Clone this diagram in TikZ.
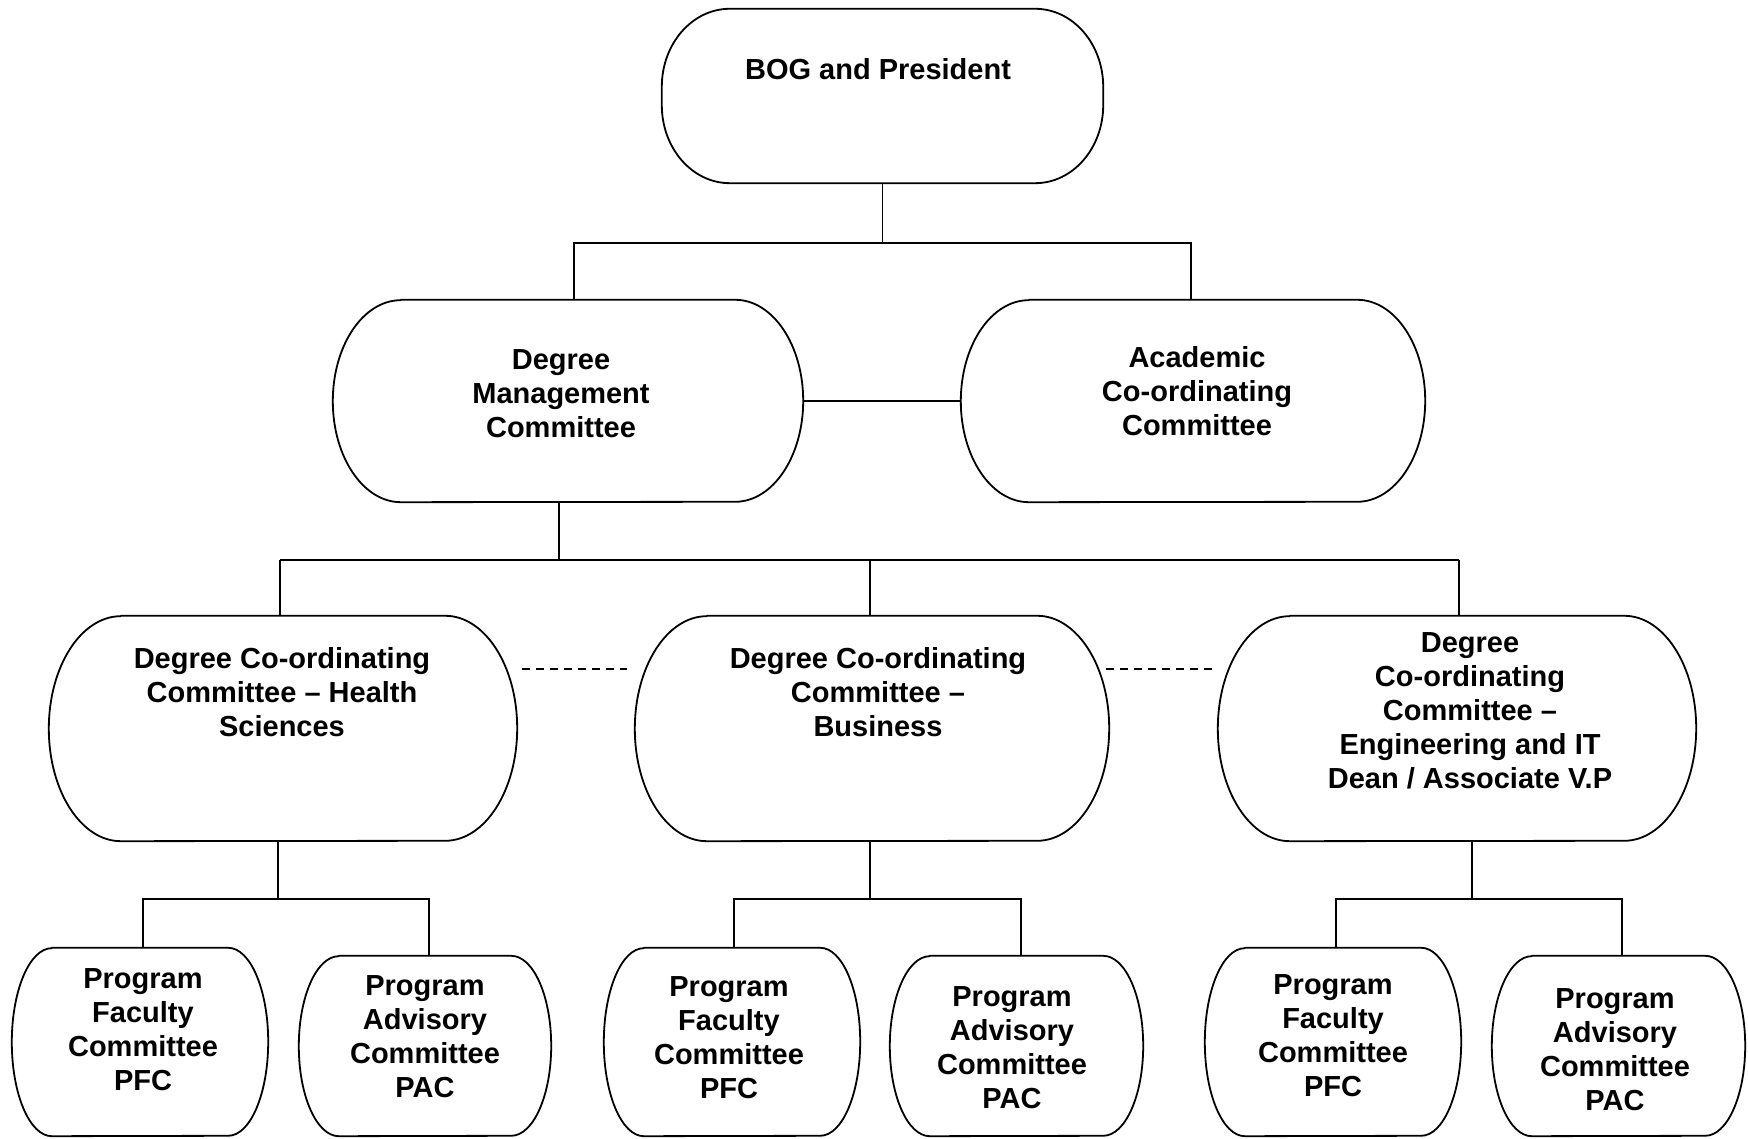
\documentclass[tikz,border=0pt]{standalone}
\usepackage{fontspec}
\setmainfont{Liberation Sans}
\tikzset{
  frame/.style={rectangle, draw=none, inner sep=0pt},
  lbl/.style={font=\bfseries\fontsize{29}{34}\selectfont, align=center, inner sep=0pt},
  conn/.style={line width=1.6pt},
  thickconn/.style={line width=2.4pt},
  outline/.style={line width=1.8pt, line join=round},
  dashline/.style={line width=1.6pt, dash pattern=on 8pt off 6pt},
}
\newcommand\barrelshape[3]{%
  \draw[outline] ([xshift=#2]#1.north west) -- ([xshift=-#2]#1.north east)
    arc[start angle=90, end angle=-90, x radius=#2, y radius=#3]
    -- ([xshift=#2]#1.south west)
    arc[start angle=270, end angle=90, x radius=#2, y radius=#3] -- cycle;}
\begin{document}
\begin{tikzpicture}[x=1pt,y=1pt]
\useasboundingbox[fill=white] (0,0) rectangle (1748,1139);

% frames
\node[frame, minimum width=441pt, minimum height=174pt] (bog) at (882.5,1043) {};
\node[frame, minimum width=470pt, minimum height=202pt] (dmc) at (568,738) {};
\node[frame, minimum width=464pt, minimum height=202pt] (acc) at (1193,738) {};
\node[frame, minimum width=468pt, minimum height=225pt] (hs) at (283,410.5) {};
\node[frame, minimum width=474pt, minimum height=225pt] (bus) at (872,410.5) {};
\node[frame, minimum width=478pt, minimum height=225pt] (eit) at (1457,410.5) {};
\node[frame, minimum width=256pt, minimum height=188pt] (pfc1) at (140,97) {};
\node[frame, minimum width=252pt, minimum height=180pt] (pac1) at (425,93) {};
\node[frame, minimum width=256pt, minimum height=188pt] (pfc2) at (732,97) {};
\node[frame, minimum width=253pt, minimum height=180pt] (pac2) at (1016.5,93) {};
\node[frame, minimum width=256pt, minimum height=188pt] (pfc3) at (1333,97) {};
\node[frame, minimum width=253pt, minimum height=180pt] (pac3) at (1618.5,93) {};

% BOG rounded rectangle
\draw[outline] ([xshift=68pt]bog.north west) -- ([xshift=-68pt]bog.north east)
  arc[start angle=90,end angle=0,x radius=68pt,y radius=78pt]
  -- ([yshift=78pt]bog.south east)
  arc[start angle=0,end angle=-90,x radius=68pt,y radius=78pt]
  -- ([xshift=68pt]bog.south west)
  arc[start angle=270,end angle=180,x radius=68pt,y radius=78pt]
  -- ([yshift=-78pt]bog.north west)
  arc[start angle=180,end angle=90,x radius=68pt,y radius=78pt] -- cycle;

\barrelshape{dmc}{68pt}{101pt}
\barrelshape{acc}{68pt}{101pt}
\barrelshape{hs}{72pt}{112.5pt}
\barrelshape{bus}{72pt}{112.5pt}
\barrelshape{eit}{72pt}{112.5pt}
\barrelshape{pfc1}{40pt}{94pt}
\barrelshape{pac1}{40pt}{90pt}
\barrelshape{pfc2}{40pt}{94pt}
\barrelshape{pac2}{40pt}{90pt}
\barrelshape{pfc3}{40pt}{94pt}
\barrelshape{pac3}{40pt}{90pt}

% labels
\node[lbl] (bogt) at (878,1070) {BOG and President};
\node[lbl] (dmct) at (561,745) {Degree\\Management\\Committee};
\node[lbl] (acct) at (1197,748) {Academic\\Co-ordinating\\Committee};
\node[lbl] (hst) at (282,447) {Degree Co-ordinating\\Committee – Health\\Sciences};
\node[lbl] (bust) at (878,447) {Degree Co-ordinating\\Committee –\\Business};
\node[lbl] (eitt) at (1470,428) {Degree\\Co-ordinating\\Committee –\\Engineering and IT\\Dean / Associate V.P};
\node[lbl] (pfc1t) at (143,109) {Program\\Faculty\\Committee\\PFC};
\node[lbl] (pac1t) at (425,102) {Program\\Advisory\\Committee\\PAC};
\node[lbl] (pfc2t) at (729,101) {Program\\Faculty\\Committee\\PFC};
\node[lbl] (pac2t) at (1012,91) {Program\\Advisory\\Committee\\PAC};
\node[lbl] (pfc3t) at (1333,103) {Program\\Faculty\\Committee\\PFC};
\node[lbl] (pac3t) at (1615,89) {Program\\Advisory\\Committee\\PAC};

% level 1 -> 2
\coordinate (j1) at (574,896);
\coordinate (j2) at (1191,896);
\draw[conn] (bog.south) -- (bog.south |- j1);
\draw[conn] (j1 |- dmc.north) -- (j1) -- (j2) -- (j2 |- acc.north);
\draw[thickconn] (dmc.east) -- (acc.west);

% level 2 -> 3
\coordinate (k0) at (559,579);
\coordinate (k1) at (280,579);
\coordinate (k2) at (870,579);
\coordinate (k3) at (1459,579);
\draw[conn] (k0 |- dmc.south) -- (k0);
\draw[thickconn] (k1) -- (k3);
\draw[conn] (k1) -- (k1 |- hs.north);
\draw[conn] (k2) -- (k2 |- bus.north);
\draw[conn] (k3) -- (k3 |- eit.north);

% dashed links
\draw[dashline] ([shift={(5pt,59.5pt)}]hs.east) -- ([shift={(-8pt,59.5pt)}]bus.west);
\draw[dashline] ([shift={(-3pt,59.5pt)}]bus.east) -- ([shift={(-5pt,59.5pt)}]eit.west);

% level 3 -> 4
\coordinate (m1) at (278,240);
\coordinate (m2) at (870,240);
\coordinate (m3) at (1472,240);
\coordinate (a1) at (143,240);
\coordinate (b1) at (429,240);
\coordinate (a2) at (734,240);
\coordinate (b2) at (1021,240);
\coordinate (a3) at (1336,240);
\coordinate (b3) at (1622,240);
\draw[conn] (m1 |- hs.south) -- (m1);
\draw[conn] (m2 |- bus.south) -- (m2);
\draw[conn] (m3 |- eit.south) -- (m3);
\draw[conn] (a1 |- pfc1.north) -- (a1) -- (b1) -- (b1 |- pac1.north);
\draw[conn] (a2 |- pfc2.north) -- (a2) -- (b2) -- (b2 |- pac2.north);
\draw[conn] (a3 |- pfc3.north) -- (a3) -- (b3) -- (b3 |- pac3.north);
\end{tikzpicture}
\end{document}
